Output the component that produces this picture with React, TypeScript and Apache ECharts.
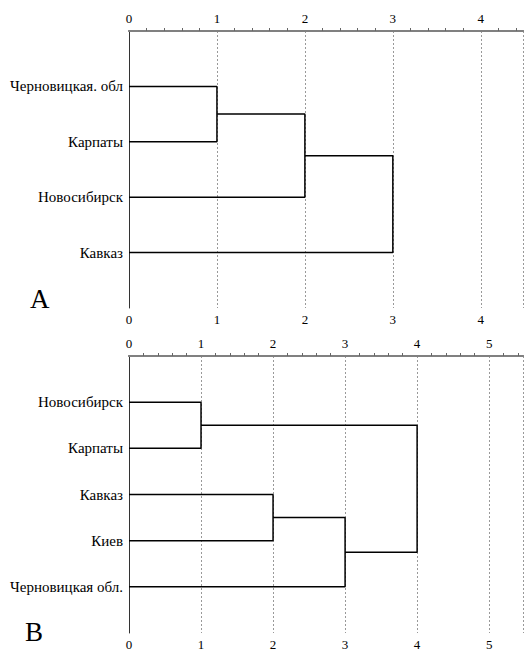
import React, { useEffect, useRef } from "react";
import * as echarts from "echarts";

// Panel A
const leavesA = ["Черновицкая. обл", "Карпаты", "Новосибирск", "Кавказ"];
const mergesA = [[0, 1], [4, 2], [5, 3]];
const heightsA = [1, 2, 3];
const ticksA = [0, 1, 2, 3, 4];

// Panel B
const leavesB = ["Новосибирск", "Карпаты", "Кавказ", "Киев", "Черновицкая обл."];
const mergesB = [[0, 1], [2, 3], [6, 4], [5, 7]];
const heightsB = [1, 2, 3, 4];
const ticksB = [0, 1, 2, 3, 4, 5];

const FONT = "Liberation Serif";

function buildSeries(leaves: string[], merges: number[][], heights: number[], xi: number, yi: number) {
  const n = leaves.length;
  const ys: number[] = leaves.map((_, i) => i + 1);
  const hs: number[] = leaves.map(() => 0);
  const series: any[] = [];
  merges.forEach(([a, b], k) => {
    const h = heights[k];
    series.push({
      type: "line",
      xAxisIndex: xi,
      yAxisIndex: yi,
      symbol: "none",
      silent: true,
      lineStyle: { color: "#000", width: 1.5 },
      data: [
        [hs[a], ys[a]],
        [h, ys[a]],
        [h, ys[b]],
        [hs[b], ys[b]],
      ],
    });
    ys[n + k] = (ys[a] + ys[b]) / 2;
    hs[n + k] = h;
  });
  return series;
}

function xAxes(grid: number, max: number, ticks: number[]) {
  const fmt = (v: number) => (ticks.indexOf(v) >= 0 ? String(v) : "");
  return [
    {
      type: "value",
      gridIndex: grid,
      position: "bottom",
      min: 0,
      max,
      interval: 1,
      axisLine: { show: true, lineStyle: { color: "#808080", width: 2 } },
      axisTick: { show: false, inside: true },
      minorTick: { show: true, splitNumber: 5, length: 3, lineStyle: { color: "#666", width: 1 } },
      axisLabel: { color: "#000", fontFamily: FONT, fontSize: 13, formatter: fmt, margin: 5 },
      splitLine: { show: true, lineStyle: { color: "#999", width: 1, type: [2, 2] } },
    },
    {
      type: "value",
      gridIndex: grid,
      position: "top",
      min: 0,
      max,
      interval: 1,
      axisLine: { show: true, lineStyle: { color: "#808080", width: 2 } },
      axisTick: { show: false },
      axisLabel: { color: "#000", fontFamily: FONT, fontSize: 13, formatter: fmt, margin: 6 },
      splitLine: { show: false },
    },
  ];
}

function yAxis(grid: number, leaves: string[]) {
  return {
    type: "value",
    gridIndex: grid,
    inverse: true,
    min: 0,
    max: leaves.length + 1,
    interval: 1,
    axisLine: { show: true, lineStyle: { color: "#333", width: 1 } },
    axisTick: { show: false },
    splitLine: { show: false },
    axisLabel: {
      color: "#000",
      fontFamily: FONT,
      fontSize: 15,
      margin: 6,
      formatter: (v: number) => leaves[v - 1] ?? "",
    },
  };
}

export default function App() {
  const ref = useRef<HTMLDivElement>(null);
  useEffect(() => {
    if (!ref.current) return;
    const chart = echarts.init(ref.current, undefined, { renderer: "svg" });
    chart.setOption({
      animation: false,
      backgroundColor: "#fff",
      grid: [
        { left: 129, top: 31, width: 397, height: 277 },
        { left: 129, top: 356, width: 397, height: 277 },
      ],
      xAxis: [...xAxes(0, 4.48, ticksA), ...xAxes(1, 5.47, ticksB)],
      yAxis: [yAxis(0, leavesA), yAxis(1, leavesB)],
      series: [
        ...buildSeries(leavesA, mergesA, heightsA, 0, 0),
        ...buildSeries(leavesB, mergesB, heightsB, 2, 1),
      ],
      graphic: [
        {
          type: "text",
          left: 30,
          top: 285,
          style: { text: "A", fontFamily: FONT, fontSize: 27, fill: "#000" },
        },
        {
          type: "text",
          left: 25,
          top: 618,
          style: { text: "B", fontFamily: FONT, fontSize: 27, fill: "#000" },
        },
      ],
    });
    return () => chart.dispose();
  }, []);
  return (
    <div
      ref={ref}
      style={{ position: "fixed", left: 0, top: 0, width: 526, height: 652, background: "#fff" }}
    />
  );
}
